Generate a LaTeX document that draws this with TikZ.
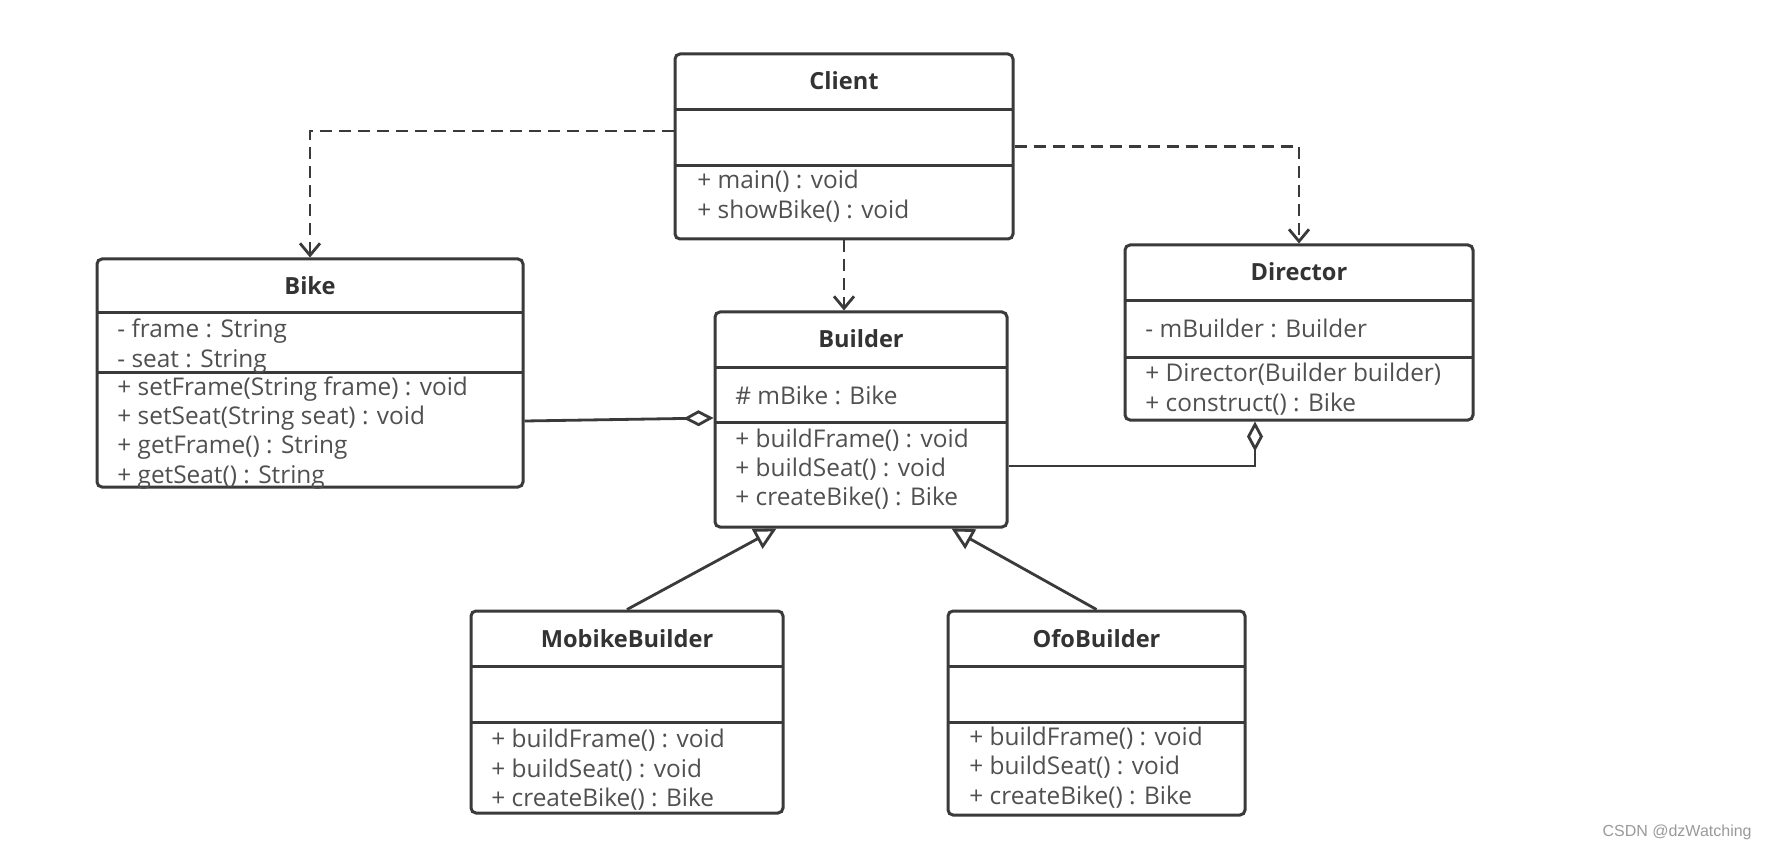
\documentclass[tikz,border=0pt]{standalone}
\usepackage{fontspec}
\setmainfont{Open Sans}
\newfontfamily\wmfont{Liberation Sans}
\usetikzlibrary{arrows.meta,fit}
\definecolor{linec}{HTML}{3A3A3A}
\definecolor{txtc}{HTML}{505050}
\definecolor{titlec}{HTML}{333333}
\definecolor{wmc}{HTML}{9A9A9A}
\tikzset{
  classbox/.style={draw=linec, line width=1.5pt, rounded corners=2.5pt, inner sep=0pt, fill=white},
  divline/.style={draw=linec, line width=1.5pt},
  member/.style={anchor=west, inner sep=0pt, text=txtc, font=\fontsize{12.2}{14}\selectfont, text height=9pt, text depth=3pt},
  ctitle/.style={inner sep=0pt, text=titlec, font=\fontsize{11.8}{14}\selectfont\bfseries, text height=9pt, text depth=3pt},
  conn/.style={draw=linec, line width=1.4pt},
  depend/.style={conn, dash pattern=on 6pt off 3.5pt, -{Straight Barb[length=6pt,width=10pt,line width=1.4pt]}},
  aggreg/.style={conn, -{Diamond[open,length=15pt,width=8pt,line width=1.4pt]}},
  inherit/.style={conn, -{Triangle[open,length=11pt,width=11pt,line width=1.4pt]}},
}
\newcommand\umlbox[7]{%
  \node[classbox, fit={(#2,#3) (#4,#5)}] (#1) {};
  \draw[divline] (#2,#6) -- (#4,#6);
  \draw[divline] (#2,#7) -- (#4,#7);
}
\begin{document}
\begin{tikzpicture}[x=0.5pt,y=-0.5pt]
\useasboundingbox (0,0) rectangle (1767,850);
\fill[white] (0,0) rectangle (1767,850);

% Client
\umlbox{client}{675}{54}{1013}{239}{110}{166}
\node[ctitle] (client-t) at (844,84) {Client};
\node[member] (client-m1) at (697,183) {+ main() : void};
\node[member] (client-m2) at (697,213) {+ showBike() : void};

% Bike
\umlbox{bike}{97}{259}{523}{487}{313}{372}
\node[ctitle] (bike-t) at (310,288) {Bike};
\node[member] (bike-a1) at (117,331) {- frame : String};
\node[member] (bike-a2) at (117,361) {- seat : String};
\node[member] (bike-m1) at (117,389) {+ setFrame(String frame) : void};
\node[member] (bike-m2) at (117,418) {+ setSeat(String seat) : void};
\node[member] (bike-m3) at (117,447) {+ getFrame() : String};
\node[member] (bike-m4) at (117,477) {+ getSeat() : String};

% Builder
\umlbox{builder}{715}{312}{1007}{527}{367}{422}
\node[ctitle] (builder-t) at (861,342) {Builder};
\node[member] (builder-a1) at (735,398) {\# mBike : Bike};
\node[member] (builder-m1) at (735,441) {+ buildFrame() : void};
\node[member] (builder-m2) at (735,470) {+ buildSeat() : void};
\node[member] (builder-m3) at (735,499) {+ createBike() : Bike};

% Director
\umlbox{director}{1125}{245}{1473}{420}{301}{357}
\node[ctitle] (director-t) at (1299,275) {Director};
\node[member] (director-a1) at (1145,331) {- mBuilder : Builder};
\node[member] (director-m1) at (1145,375) {+ Director(Builder builder)};
\node[member] (director-m2) at (1145,405) {+ construct() : Bike};

% MobikeBuilder
\umlbox{mobike}{471}{611}{783}{813}{666}{722}
\node[ctitle] (mobike-t) at (627,641) {MobikeBuilder};
\node[member] (mobike-m1) at (491,741) {+ buildFrame() : void};
\node[member] (mobike-m2) at (491,771) {+ buildSeat() : void};
\node[member] (mobike-m3) at (491,800) {+ createBike() : Bike};

% OfoBuilder
\umlbox{ofo}{948}{611}{1245}{815}{666}{722}
\node[ctitle] (ofo-t) at (1096.5,641) {OfoBuilder};
\node[member] (ofo-m1) at (969,739) {+ buildFrame() : void};
\node[member] (ofo-m2) at (969,768.5) {+ buildSeat() : void};
\node[member] (ofo-m3) at (969,798) {+ createBike() : Bike};

% connectors
\draw[depend] (client.west |- 0,131) -| (bike.north);
\draw[depend] (client.east) -| (director.north);
\draw[depend] (client.south) -- (client.south |- builder.north);
\draw[aggreg] (bike.east |- 0,421) -- (builder.west |- 0,418);
\draw[aggreg] (builder.east |- 0,466) -| ([xshift=-22pt]director.south);
\draw[inherit] (mobike.north) -- ([xshift=31.5pt]builder.south west);
\draw[inherit] (ofo.north) -- ([xshift=119pt]builder.south west);

% watermark
\node[anchor=east, inner sep=0pt, text=wmc, font=\wmfont\fontsize{8}{9}\selectfont] (wm) at (1752,832) {CSDN @dzWatching};
\end{tikzpicture}
\end{document}
